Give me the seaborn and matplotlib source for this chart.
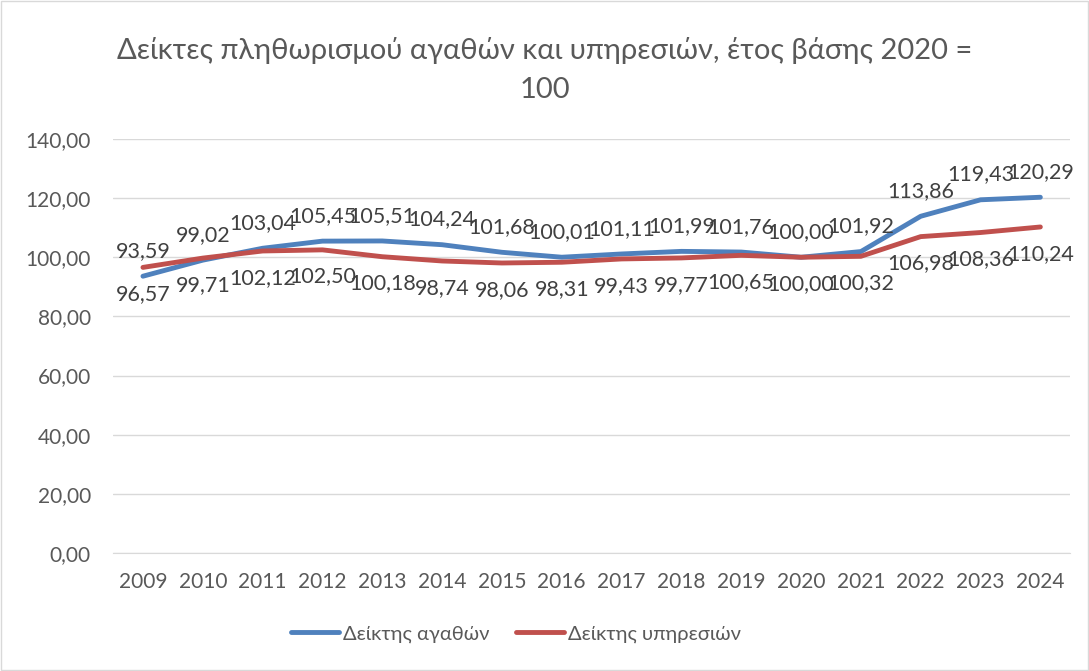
import matplotlib.pyplot as plt
import seaborn as sns
import pandas as pd
from matplotlib.ticker import FuncFormatter

years = list(range(2009, 2025))
goods = [93.59, 99.02, 103.04, 105.45, 105.51, 104.24, 101.68, 100.01,
         101.11, 101.99, 101.76, 100.00, 101.92, 113.86, 119.43, 120.29]
services = [96.57, 99.71, 102.12, 102.50, 100.18, 98.74, 98.06, 98.31,
            99.43, 99.77, 100.65, 100.00, 100.32, 106.98, 108.36, 110.24]
series_names = ['Δείκτης αγαθών', 'Δείκτης υπηρεσιών']
colors = ['#4F81BD', '#C0504D']

df = pd.DataFrame({'year': years, series_names[0]: goods, series_names[1]: services})
df_long = df.melt(id_vars='year', var_name='series', value_name='value')

sns.set_style('white')
plt.rcParams['font.family'] = ['Lato', 'DejaVu Sans']

fig = plt.figure(figsize=(10.89, 6.71), dpi=100)
ax = fig.add_axes([0.1038, 0.1759, 0.879, 0.617])

sns.lineplot(data=df_long, x='year', y='value', hue='series',
             palette=colors, linewidth=3.5, ax=ax, legend=True)

txt = '#404040'
# data labels: goods above, services below (they touch in the original too)
for x, y in zip(years, goods):
    ax.annotate(f'{y:.2f}'.replace('.', ','), (x, y), xytext=(0, 11),
                textcoords='offset points', ha='center', va='bottom',
                fontsize=15.5, color=txt)
for x, y in zip(years, services):
    ax.annotate(f'{y:.2f}'.replace('.', ','), (x, y), xytext=(0, -12),
                textcoords='offset points', ha='center', va='top',
                fontsize=15.5, color=txt)

ax.set_xlim(2008.5, 2024.5)
ax.set_ylim(0, 140)
ax.set_yticks(range(0, 141, 20))
ax.yaxis.set_major_formatter(FuncFormatter(lambda v, p: f'{v:.2f}'.replace('.', ',')))
ax.set_xticks(years)
ax.tick_params(axis='both', labelsize=15, colors='#595959', length=0, pad=16)
ax.tick_params(axis='x', pad=14)
ax.grid(axis='y', color='#D9D9D9', linewidth=1)
for s in ['top', 'right', 'left']:
    ax.spines[s].set_visible(False)
ax.spines['bottom'].set_color('#D9D9D9')
ax.set_xlabel('')
ax.set_ylabel('')

fig.text(0.5, 0.925, 'Δείκτες πληθωρισμού αγαθών και υπηρεσιών, έτος βάσης 2020 =',
         ha='center', va='center', fontsize=21, color='#595959')
fig.text(0.5, 0.866, '100', ha='center', va='center', fontsize=21, color='#595959')

ax.legend(loc='center', bbox_to_anchor=(0.421, -0.196), ncol=2, frameon=False,
          fontsize=14.5, labelcolor='#595959', handlelength=2.4, columnspacing=1.3,
          handletextpad=0.2)

fig.patches.append(plt.Rectangle((0.001, 0.001), 0.998, 0.998, transform=fig.transFigure,
                                 fill=False, edgecolor='#D9D9D9', linewidth=1))

plt.savefig('out.png', dpi=100)
plt.close()
